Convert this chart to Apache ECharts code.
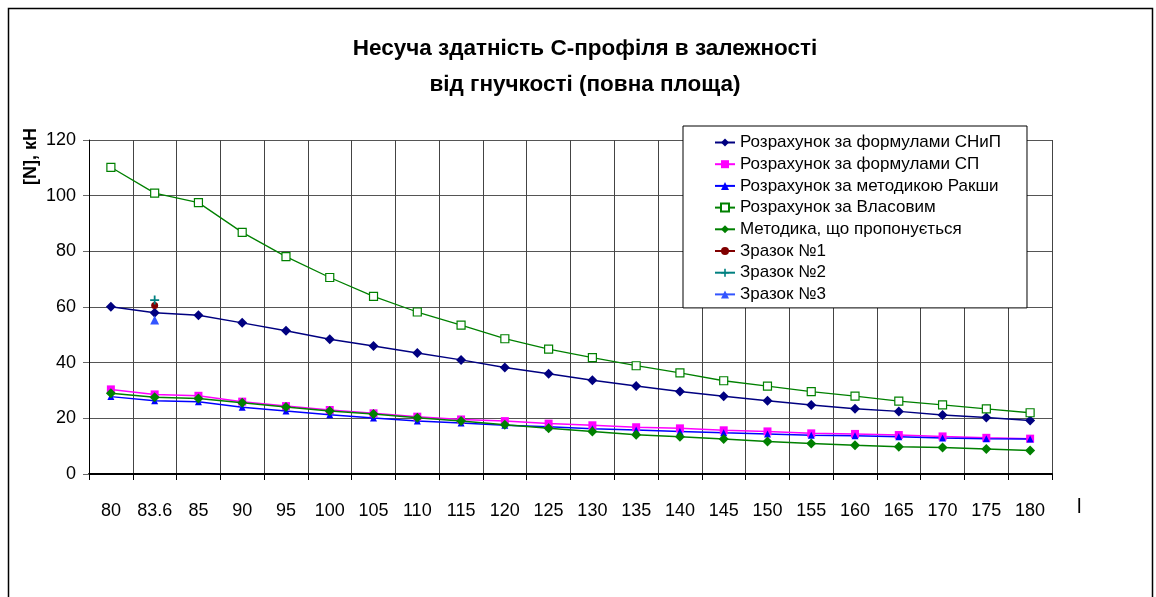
<!DOCTYPE html>
<html>
<head>
<meta charset="utf-8">
<script src="https://cdn.jsdelivr.net/npm/echarts@6/dist/echarts.min.js"></script>
<style>html,body{margin:0;padding:0;background:#fff}#c{width:1156px;height:597px}</style>
</head>
<body>
<div id="c"></div>
<script>
const categories = ['80','83.6','85','90','95','100','105','110','115','120','125','130','135','140','145','150','155','160','165','170','175','180'];
const snip = [60.1,57.9,57.0,54.3,51.5,48.4,46.0,43.5,41.0,38.3,36.0,33.7,31.6,29.6,27.9,26.3,24.8,23.4,22.5,21.2,20.3,19.2];
const sp = [30.4,28.6,28.1,26.0,24.4,23.0,21.8,20.6,19.6,19.0,18.1,17.5,16.8,16.4,15.7,15.3,14.6,14.4,14.0,13.5,13.0,12.7];
const raksha = [27.8,26.3,26.0,24.0,22.6,21.3,20.1,19.0,18.3,17.5,17.0,16.3,15.8,15.3,14.8,14.4,13.9,13.7,13.4,12.9,12.7,12.6];
const vlasov = [110.2,100.9,97.5,86.8,78.1,70.6,63.8,58.2,53.5,48.6,44.9,41.8,38.9,36.3,33.5,31.6,29.6,28.0,26.2,24.8,23.4,22.0];
const proposed = [29.0,27.6,27.1,25.6,24.1,22.6,21.6,20.2,19.0,17.7,16.4,15.3,14.1,13.4,12.6,11.7,11.0,10.3,9.8,9.5,9.0,8.4];
const sample1 = [null,60.5];
const sample2 = [null,62.5];
const sample3 = [null,55.3];
const yTicks = [0,20,40,60,80,100,120];
const seriesNames = ['Розрахунок за формулами СНиП','Розрахунок за формулами СП','Розрахунок за методикою Ракши','Розрахунок за Власовим','Методика, що пропонується','Зразок №1','Зразок №2','Зразок №3'];

const chart = echarts.init(document.getElementById('c'), null, {renderer:'canvas'});
const FONT = 'Liberation Sans, Arial, sans-serif';
const plus = 'path://M4,0 L6,0 L6,4 L10,4 L10,6 L6,6 L6,10 L4,10 L4,6 L0,6 L0,4 L4,4 Z';
function mk(name, data, color, symbol, size, extra) {
  return Object.assign({
    name, type:'line', data, symbol, symbolSize:size,
    showAllSymbol:true, connectNulls:false,
    lineStyle:{color, width:1.5}, itemStyle:{color},
    emphasis:{disabled:true}, animation:false
  }, extra||{});
}
chart.setOption({
  animation:false,
  backgroundColor:'#fff',
  textStyle:{fontFamily:FONT},
  title:{
    text:'Несуча здатність С-профіля в залежності\nвід гнучкості (повна площа)',
    left:580, textAlign:'center', top:26,
    textStyle:{fontFamily:FONT, fontWeight:'bold', fontSize:22.5, lineHeight:36, color:'#000'}
  },
  grid:{left:89, right:1156-1052, top:140, bottom:597-474, containLabel:false},
  legend:{
    orient:'vertical', left:683, top:126,
    padding:[8,26,5,31], itemGap:4.7, itemWidth:20, itemHeight:10,
    backgroundColor:'#fff', borderColor:'#000', borderWidth:1, borderRadius:0,
    textStyle:{fontFamily:FONT, fontSize:17, color:'#000'},
    data:seriesNames
  },
  xAxis:{
    type:'category', data:categories, boundaryGap:true,
    axisLine:{lineStyle:{color:'#000', width:2}},
    axisTick:{show:true, length:6, lineStyle:{color:'#000'}, alignWithLabel:false},
    axisLabel:{fontSize:18, color:'#000', margin:28, fontFamily:FONT, interval:0},
    splitLine:{show:true, interval:0, lineStyle:{color:'#444', width:1}}
  },
  yAxis:{
    type:'value', min:yTicks[0], max:yTicks[yTicks.length-1], interval:20,
    axisLine:{show:true, lineStyle:{color:'#000', width:1}},
    axisTick:{show:true, length:6, lineStyle:{color:'#666'}},
    axisLabel:{fontSize:18, color:'#000', margin:13, fontFamily:FONT},
    splitLine:{show:true, lineStyle:{color:'#555', width:1}}
  },
  series:[
    mk(seriesNames[0], snip, '#000080', 'diamond', 10),
    mk(seriesNames[1], sp, '#FF00FF', 'rect', 8),
    mk(seriesNames[2], raksha, '#0000FF', 'triangle', 7),
    mk(seriesNames[3], vlasov, '#008000', 'rect', 8, {itemStyle:{color:'#fff', borderColor:'#008000', borderWidth:1.2}, lineStyle:{color:'#008000', width:1.3}}),
    mk(seriesNames[4], proposed, '#008000', 'diamond', 10),
    mk(seriesNames[5], sample1, '#800000', 'circle', 7),
    mk(seriesNames[6], sample2, '#008080', plus, 9),
    mk(seriesNames[7], sample3, '#3355FF', 'triangle', 9)
  ],
  graphic:[
    {type:'rect', left:6, top:6, shape:{width:1144, height:620}, style:{fill:'none', stroke:'#000', lineWidth:1.5}, silent:true, z:-10},
    {type:'text', x:22, y:185, rotation:Math.PI/2, style:{text:'[N], кН', font:'bold 18px Liberation Sans, Arial, sans-serif', fill:'#000', textAlign:'left', textVerticalAlign:'top'}},
    {type:'text', x:1077, y:497, style:{text:'l', font:'20px Liberation Sans, Arial, sans-serif', fill:'#000'}}
  ]
});
</script>
</body>
</html>
